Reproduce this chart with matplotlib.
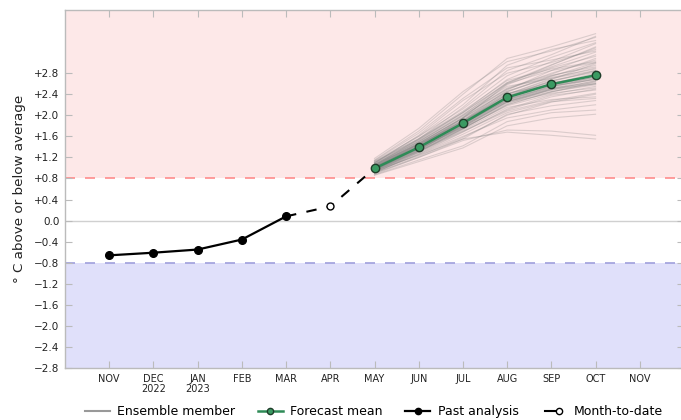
import matplotlib

matplotlib.use("Agg")

import matplotlib.pyplot as plt
from matplotlib.legend_handler import HandlerBase
from matplotlib.lines import Line2D

# month axis: NOV 2022 .. NOV 2023
MONTHS = ["NOV", "DEC\n2022", "JAN\n2023", "FEB", "MAR", "APR", "MAY",
          "JUN", "JUL", "AUG", "SEP", "OCT", "NOV"]

# past analysis NOV..MAR
PAST_IDX = [0, 1, 2, 3, 4]
PAST_VALS = [-0.66, -0.61, -0.55, -0.36, 0.08]

# month-to-date (APR)
MTD_IDX = 5
MTD_VAL = 0.27

# forecast mean MAY..OCT
FC_IDX = [6, 7, 8, 9, 10, 11]
FC_MEAN = [0.99, 1.39, 1.85, 2.34, 2.59, 2.76]

# ensemble members MAY..OCT
ENSEMBLE = [
    [1.05, 1.55, 2.15, 2.85, 3.15, 3.50],
    [0.95, 1.40, 1.95, 2.60, 2.95, 3.30],
    [1.10, 1.60, 2.20, 2.95, 3.25, 3.42],
    [0.90, 1.30, 1.75, 2.20, 2.45, 2.60],
    [1.00, 1.45, 1.90, 2.35, 2.60, 2.80],
    [0.98, 1.35, 1.80, 2.30, 2.55, 2.70],
    [1.02, 1.42, 1.88, 2.40, 2.70, 2.90],
    [0.92, 1.25, 1.60, 1.95, 2.10, 2.20],
    [1.08, 1.50, 2.00, 2.50, 2.80, 3.05],
    [0.88, 1.20, 1.52, 1.72, 1.70, 1.62],
    [0.95, 1.24, 1.55, 1.68, 1.62, 1.55],
    [1.15, 1.70, 2.40, 3.08, 3.30, 3.55],
    [1.00, 1.38, 1.78, 2.25, 2.50, 2.65],
    [0.97, 1.32, 1.70, 2.10, 2.35, 2.50],
    [1.04, 1.48, 1.95, 2.45, 2.75, 2.95],
    [0.93, 1.33, 1.82, 2.35, 2.65, 2.85],
    [1.06, 1.45, 1.85, 2.28, 2.48, 2.60],
    [0.99, 1.40, 1.86, 2.38, 2.62, 2.75],
    [1.12, 1.55, 2.05, 2.60, 2.85, 3.00],
    [0.90, 1.22, 1.58, 2.00, 2.25, 2.40],
    [1.03, 1.46, 1.92, 2.42, 2.58, 2.72],
    [0.96, 1.36, 1.76, 2.18, 2.40, 2.55],
    [1.07, 1.52, 2.02, 2.55, 2.70, 2.85],
    [0.94, 1.30, 1.72, 2.15, 2.30, 2.35],
    [1.01, 1.43, 1.90, 2.48, 2.85, 3.15],
    [1.09, 1.62, 2.28, 2.80, 3.00, 3.25],
    [0.98, 1.37, 1.82, 2.32, 2.52, 2.62],
    [0.91, 1.27, 1.68, 2.12, 2.38, 2.48],
    [1.05, 1.50, 1.98, 2.52, 2.78, 3.08],
    [1.00, 1.40, 1.84, 2.30, 2.55, 2.68],
    [0.87, 1.15, 1.42, 1.88, 2.05, 2.10],
    [1.13, 1.60, 2.12, 2.75, 3.10, 3.38],
    [0.97, 1.34, 1.78, 2.26, 2.45, 2.58],
    [1.02, 1.44, 1.88, 2.36, 2.66, 2.82],
    [0.95, 1.31, 1.74, 2.22, 2.50, 2.70],
    [1.06, 1.47, 1.94, 2.46, 2.72, 2.88],
    [0.99, 1.39, 1.83, 2.34, 2.60, 2.76],
    [1.03, 1.41, 1.87, 2.40, 2.68, 2.98],
    [0.93, 1.29, 1.69, 2.08, 2.28, 2.42],
    [1.10, 1.53, 2.05, 2.62, 2.92, 3.20],
    [1.18, 1.75, 2.45, 3.02, 3.22, 3.48],
    [0.86, 1.12, 1.38, 1.80, 1.95, 2.02],
    [1.04, 1.46, 1.96, 2.58, 2.90, 3.12],
    [0.96, 1.33, 1.74, 2.20, 2.44, 2.64],
    [1.01, 1.41, 1.86, 2.36, 2.58, 2.72],
    [1.07, 1.50, 2.00, 2.62, 2.96, 3.28],
    [0.92, 1.26, 1.64, 2.05, 2.26, 2.32],
    [1.00, 1.40, 1.85, 2.33, 2.56, 2.68],
    [1.14, 1.66, 2.32, 2.90, 3.05, 3.22],
    [0.98, 1.36, 1.80, 2.28, 2.54, 2.78],
    [0.94, 1.32, 1.76, 2.24, 2.42, 2.52],
    [1.09, 1.54, 2.06, 2.68, 3.02, 3.36],
    [1.03, 1.45, 1.90, 2.40, 2.64, 2.84],
    [0.90, 1.20, 1.55, 2.02, 2.18, 2.28],
    [1.05, 1.47, 1.95, 2.50, 2.76, 2.92],
    [0.97, 1.38, 1.82, 2.30, 2.50, 2.60],
    [1.11, 1.56, 2.08, 2.66, 2.88, 3.02],
    [0.99, 1.37, 1.80, 2.26, 2.48, 2.66],
    [1.02, 1.43, 1.89, 2.44, 2.74, 3.00],
    [0.95, 1.35, 1.78, 2.26, 2.52, 2.74],
]

THRESH_HI = 0.8
THRESH_LO = -0.8
Y_TICKS = [-2.8, -2.4, -2.0, -1.6, -1.2, -0.8, -0.4, 0.0,
           0.4, 0.8, 1.2, 1.6, 2.0, 2.4, 2.8]

PINK = "#fde8e8"
BLUE = "#e0e0fa"
RED_LINE = "#ff8c8c"
BLUE_LINE = "#a0a0dc"
GREEN = "#2e8b57"
GREEN_FACE = "#3a9a62"
SPINE = "#bbbbbb"


def tick_label(v):
    if abs(v) < 1e-9:
        return "0.0"
    if v > 0:
        return "+%.1f" % v
    return "\u2212%.1f" % abs(v)


class MonthToDateHandler(HandlerBase):
    # short dash with an open circle at its right end
    def create_artists(self, legend, orig_handle, xdescent, ydescent,
                       width, height, fontsize, trans):
        y = height / 2.0 - ydescent
        x0 = -xdescent
        dash = Line2D([x0 + width * 0.15, x0 + width * 0.55], [y, y],
                      color="black", lw=1.5, transform=trans)
        dot = Line2D([x0 + width * 0.72], [y], marker="o", ms=4.5,
                     mfc="white", mec="black", mew=1.0, ls="none",
                     transform=trans)
        return [dash, dot]


fig = plt.figure(figsize=(6.81, 4.20), dpi=100)
ax = fig.add_axes([65 / 681, 52 / 420, 619 / 681, 358 / 420])

ax.set_xlim(-1, 13)
ax.set_ylim(-2.8, 4.0)

ax.axhspan(THRESH_HI, 4.0, color=PINK, zorder=0, lw=0)
ax.axhspan(-2.8, THRESH_LO, color=BLUE, zorder=0, lw=0)
ax.axhline(THRESH_HI, color=RED_LINE, lw=1.2, ls=(0, (6, 6)), zorder=1)
ax.axhline(THRESH_LO, color=BLUE_LINE, lw=1.2, ls=(0, (6, 6)), zorder=1)
ax.axhline(0.0, color="#d0d0d0", lw=1.0, zorder=1)

for member in ENSEMBLE:
    ax.plot(FC_IDX, member, color="#808080", lw=0.8, alpha=0.27, zorder=2)

# dashed link MAR -> APR -> MAY
ax.plot([PAST_IDX[-1], MTD_IDX], [PAST_VALS[-1], MTD_VAL], color="black",
        lw=1.5, ls=(0, (5, 5)), zorder=3)
ax.plot([MTD_IDX, FC_IDX[0]], [MTD_VAL, FC_MEAN[0]], color="black",
        lw=1.5, ls=(3, (5, 5)), zorder=3)

ax.plot(PAST_IDX, PAST_VALS, color="black", lw=1.6, marker="o", ms=5.5, zorder=4)
ax.plot(MTD_IDX, MTD_VAL, marker="o", ms=5, mfc="white", mec="black",
        mew=1.0, ls="none", zorder=5)
ax.plot(FC_IDX, FC_MEAN, color=GREEN, lw=1.8, marker="o", ms=6,
        mfc=GREEN_FACE, mec="#1f3d2a", mew=1.0, zorder=6)

ax.set_yticks(Y_TICKS)
ax.set_yticklabels([tick_label(v) for v in Y_TICKS], fontsize=7.5, color="#222222")
ax.set_xticks(range(len(MONTHS)))
ax.set_xticklabels(MONTHS, fontsize=7.0, color="#222222", linespacing=1.0)
ax.tick_params(axis="both", direction="in", length=5, color=SPINE, width=0.8,
               top=True, right=True)
ax.tick_params(axis="x", pad=4)
ax.tick_params(axis="y", pad=4)
for sp in ax.spines.values():
    sp.set_color(SPINE)
    sp.set_linewidth(1.0)

ax.set_ylabel("\u00b0 C above or below average", fontsize=9.7, color="#222222",
              labelpad=6)

mtd_handle = object()
handles = [
    Line2D([], [], color="#999999", lw=1.5),
    Line2D([], [], color=GREEN, lw=1.8, marker="o", ms=4.5, mfc=GREEN_FACE, mec="#1f3d2a"),
    Line2D([], [], color="black", lw=1.6, marker="o", ms=4.5),
    mtd_handle,
]
labels = ["Ensemble member", "Forecast mean", "Past analysis", "Month-to-date"]
fig.legend(handles, labels, loc="lower center", bbox_to_anchor=(0.549, -0.022),
           ncol=4, frameon=False, fontsize=9.0, handlelength=2.0,
           columnspacing=1.8, handletextpad=0.6,
           handler_map={mtd_handle: MonthToDateHandler()})

fig.savefig("out.png", dpi=100)
